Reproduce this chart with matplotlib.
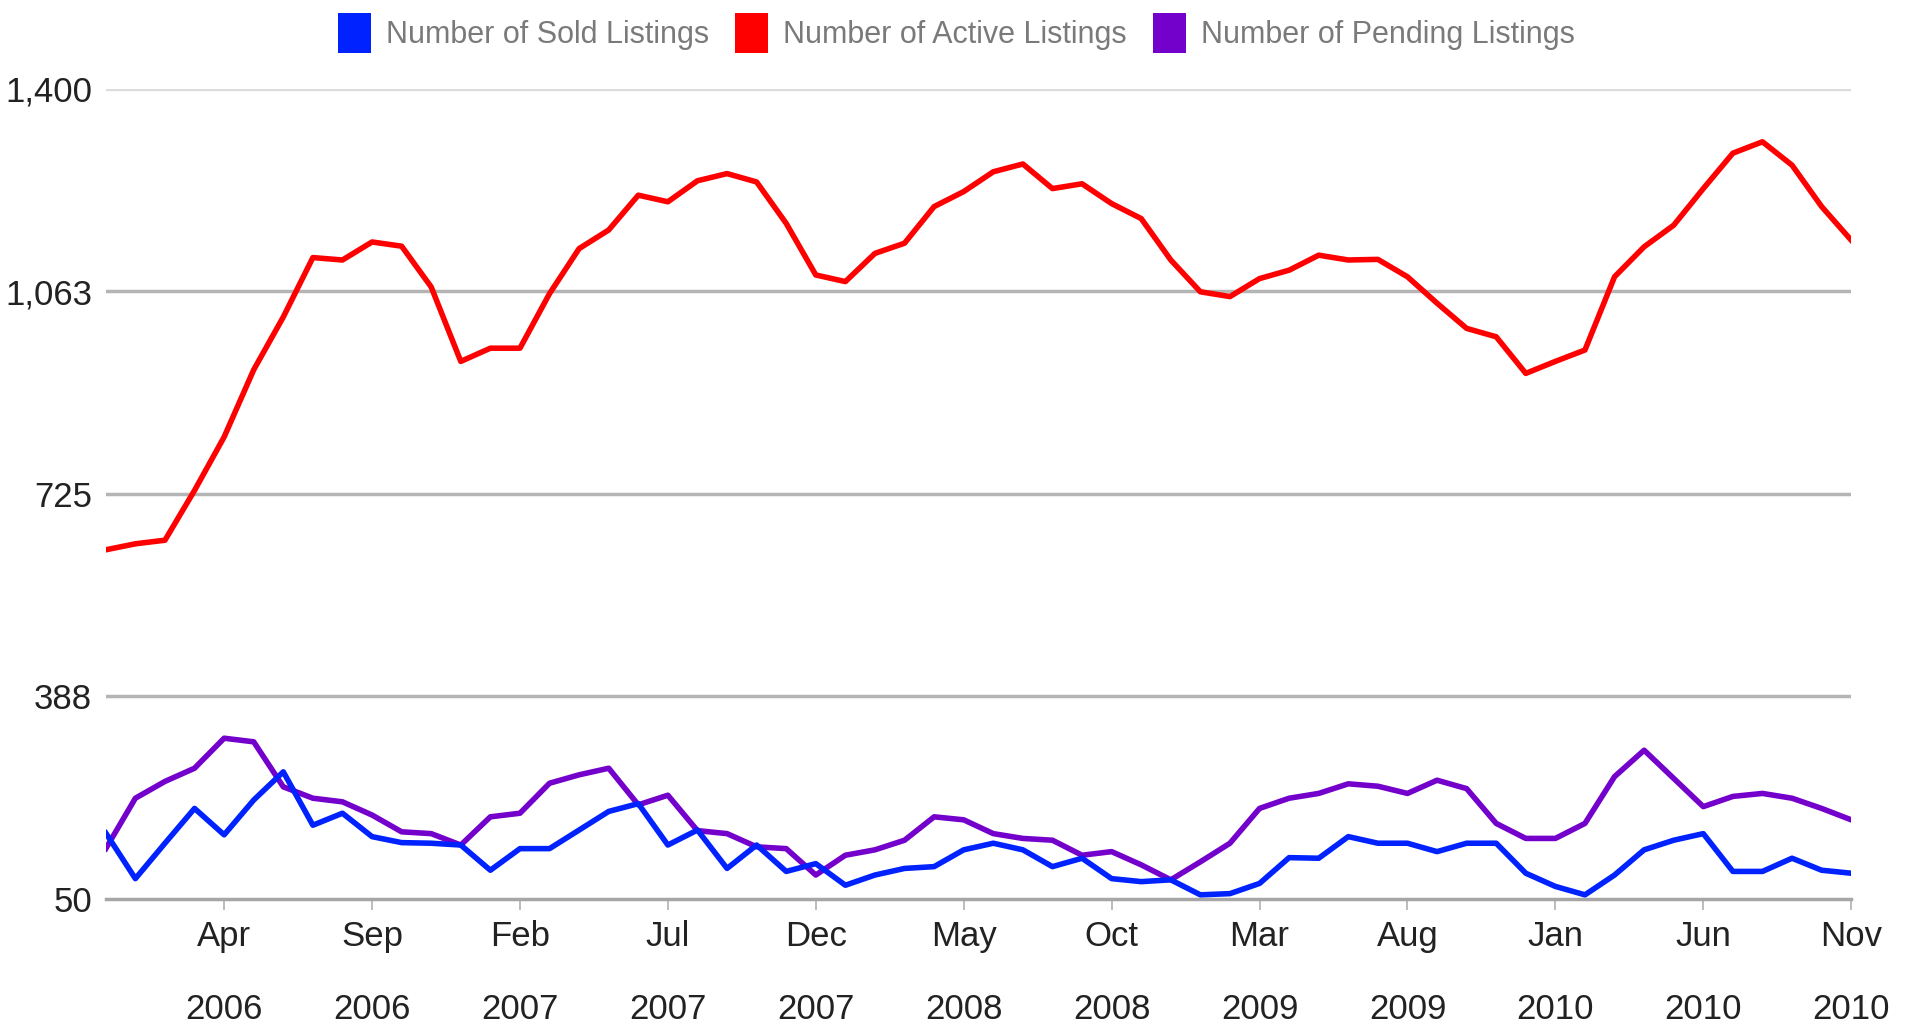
import numpy as np
import matplotlib
matplotlib.use("Agg")
import matplotlib.pyplot as plt
from matplotlib.patches import Patch

plt.rcParams['font.family'] = ['Liberation Sans', 'DejaVu Sans']

# monthly data, Dec 2005 .. Nov 2010 (60 months)
active = [632, 642, 648, 731, 820, 932, 1020, 1119, 1115, 1145,
          1138, 1070, 946, 968, 968, 1059, 1134, 1165, 1223, 1212,
          1247, 1259, 1245, 1176, 1090, 1079, 1126, 1143, 1204, 1229,
          1262, 1275, 1234, 1242, 1209, 1184, 1115, 1062, 1054, 1084,
          1098, 1123, 1115, 1116, 1087, 1043, 1001, 987, 926, 946,
          965, 1087, 1137, 1173, 1234, 1293, 1312, 1273, 1204, 1148]
sold = [160, 84, 143, 201, 157, 215, 262, 173, 193, 154,
        144, 143, 140, 98, 134, 134, 165, 196, 209, 140,
        165, 101, 140, 96, 109, 73, 90, 101, 104, 132,
        143, 132, 104, 118, 84, 79, 82, 57, 59, 76,
        119, 118, 154, 143, 143, 129, 143, 143, 93, 71,
        57, 90, 132, 148, 159, 96, 96, 118, 98, 93]
pending = [134, 218, 246, 268, 318, 312, 237, 218, 212, 190,
           162, 159, 140, 187, 193, 243, 257, 268, 207, 223,
           164, 159, 137, 134, 90, 123, 132, 148, 187, 182,
           159, 151, 148, 123, 129, 107, 82, 112, 143, 201,
           218, 226, 242, 238, 226, 248, 234, 176, 151, 151,
           176, 254, 298, 251, 204, 221, 226, 218, 201, 182]

tick_pos = [4, 9, 14, 19, 24, 29, 34, 39, 44, 49, 54, 59]
tick_months = ['Apr', 'Sep', 'Feb', 'Jul', 'Dec', 'May', 'Oct', 'Mar', 'Aug', 'Jan', 'Jun', 'Nov']
tick_years = ['2006', '2006', '2007', '2007', '2007', '2008', '2008', '2009', '2009', '2010', '2010', '2010']
y_ticks = [50, 388, 725, 1063, 1400]
y_labels = ['50', '388', '725', '1,063', '1,400']

series_names = ['Number of Sold Listings', 'Number of Active Listings', 'Number of Pending Listings']
series_colors = ['#0022ff', '#ff0000', '#7400cc']

fig = plt.figure(figsize=(19.13, 10.31), dpi=100)
ax = fig.add_axes([0.0553, 0.128, 0.9124, 0.7857])

x = np.arange(len(active))
ax.plot(x, active, color=series_colors[1], lw=4, solid_joinstyle='round', zorder=3)
ax.plot(x, pending, color=series_colors[2], lw=4, solid_joinstyle='round', zorder=3)
ax.plot(x, sold, color=series_colors[0], lw=4, solid_joinstyle='round', zorder=4)

ax.set_xlim(0, len(active) - 1)
ax.set_ylim(50, 1400)

ax.set_yticks(y_ticks)
ax.set_yticklabels(y_labels)
ax.yaxis.grid(True, color='#b5b5b5', lw=2.5)
ax.get_ygridlines()[-1].set_color('#dddddd')
ax.get_ygridlines()[0].set_visible(False)
ax.set_axisbelow(True)

ax.set_xticks(tick_pos)
ax.set_xticklabels([m + '\n' + yr for m, yr in zip(tick_months, tick_years)])
plt.setp(ax.get_xticklabels(), linespacing=2.55)

for s in ['top', 'right', 'left']:
    ax.spines[s].set_visible(False)
ax.spines['bottom'].set_color('#a6a6a6')
ax.spines['bottom'].set_linewidth(2.5)

ax.tick_params(axis='y', length=0, pad=10, labelsize=25, labelcolor='#222222')
ax.tick_params(axis='x', length=8, width=1.2, color='#b0b0b0', pad=7,
               labelsize=25, labelcolor='#222222')

handles = [Patch(facecolor=c, edgecolor='none') for c in series_colors]
fig.legend(handles, series_names, loc='center', bbox_to_anchor=(0.5, 0.968),
           ncol=3, frameon=False, fontsize=22, labelcolor='#7a7a7a',
           handlelength=1.08, handleheight=1.6, handletextpad=0.5,
           columnspacing=0.85)

fig.savefig('out.png', dpi=100, facecolor='white')
